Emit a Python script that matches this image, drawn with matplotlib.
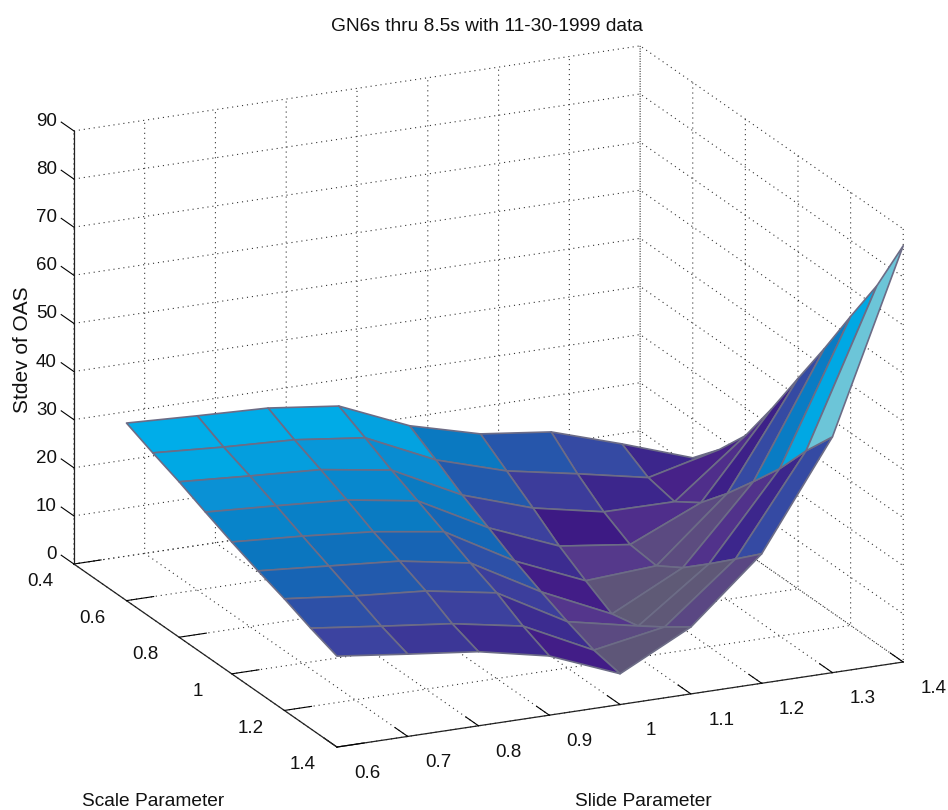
import numpy as np
import matplotlib
matplotlib.use('Agg')
import matplotlib.pyplot as plt
from matplotlib.colors import LinearSegmentedColormap, Normalize
from mpl_toolkits.mplot3d import proj3d

slide = [0.6, 0.7, 0.8, 0.9, 1.0, 1.1, 1.2, 1.3, 1.4]
scale = [0.6, 0.7, 0.8, 0.9, 1.0, 1.1, 1.2, 1.3, 1.4]

# one row per scale value
stdev_06 = [36.9, 36.2, 35.6, 33.8, 27.5, 23.6, 21.8, 17.1, 12.0]
stdev_07 = [34.5, 33.5, 32.8, 31.0, 24.2, 19.7, 16.9, 13.9, 17.5]
stdev_08 = [32.3, 31.3, 30.4, 28.1, 20.7, 15.8, 12.8, 12.7, 24.2]
stdev_09 = [29.8, 28.9, 27.9, 25.5, 17.7, 11.7, 9.8, 16.3, 33.6]
stdev_10 = [27.4, 26.4, 25.1, 22.9, 14.6, 8.3, 9.2, 22.0, 43.7]
stdev_11 = [25.2, 24.0, 22.8, 20.2, 12.0, 5.2, 12.6, 28.3, 53.7]
stdev_12 = [23.2, 21.6, 20.4, 17.8, 9.6, 6.5, 17.2, 34.8, 64.2]
stdev_13 = [20.9, 19.1, 17.4, 14.7, 7.5, 10.1, 22.0, 42.3, 74.4]
stdev_14 = [18.9, 17.1, 15.4, 12.3, 6.4, 13.9, 26.9, 49.0, 86.5]

x_ticks = [0.6, 0.7, 0.8, 0.9, 1.0, 1.1, 1.2, 1.3, 1.4]
x_labels = ['0.6', '0.7', '0.8', '0.9', '1', '1.1', '1.2', '1.3', '1.4']
y_ticks = [0.4, 0.6, 0.8, 1.0, 1.2, 1.4]
y_labels = ['0.4', '0.6', '0.8', '1', '1.2', '1.4']
z_ticks = [0, 10, 20, 30, 40, 50, 60, 70, 80, 90]
z_labels = ['0', '10', '20', '30', '40', '50', '60', '70', '80', '90']

plt.rcParams['font.family'] = ['Liberation Sans', 'DejaVu Sans']
plt.rcParams['grid.linestyle'] = (0, (1, 3.5))
plt.rcParams['grid.linewidth'] = 0.8
plt.rcParams['grid.color'] = '#333333'

Z = np.array([stdev_06, stdev_07, stdev_08, stdev_09, stdev_10,
              stdev_11, stdev_12, stdev_13, stdev_14])
X, Y = np.meshgrid(slide, scale)

# colours of the facets against height
norm = Normalize(0, 90)
stops = [(0, '#5f5a76'), (5, '#5f5a76'), (8, '#5e5578'), (10, '#5a4684'),
         (12, '#54368c'), (14, '#451f88'), (15.5, '#3d1a84'), (18, '#3c2f92'),
         (20.9, '#3c44a0'), (23.2, '#2b52a8'), (25.2, '#1565b5'), (27.4, '#0a78c0'),
         (30, '#0886cc'), (32.3, '#0a92d6'), (34.5, '#00a8e4'), (37, '#00aeea'),
         (42, '#6cc5d8'), (90, '#6cc5d8')]
cmap = LinearSegmentedColormap.from_list('oas', [(norm(v), c) for v, c in stops])

fig = plt.figure(figsize=(9.48, 8.10), dpi=100)
ax = fig.add_axes([72.6 / 948, -2.4 / 810, 810 / 948, 1.0], projection='3d',
                  proj_type='ortho')
ax.set_box_aspect((1, 1, 0.733), zoom=1.192)
ax.view_init(elev=18.86, azim=245.08)

surf = ax.plot_surface(X, Y, Z, rstride=1, cstride=1, facecolors=cmap(norm(Z)),
                       shade=False, linewidth=1.2, antialiased=True)
surf.set_edgecolor('#6c6c86')
surf.set_clip_on(False)

ax.set_xlim(0.6, 1.4)
ax.set_ylim(1.4, 0.4)
ax.set_zlim(0, 90)
ax.set_xticks(x_ticks)
ax.set_yticks(y_ticks)
ax.set_zticks(z_ticks)

for axis in (ax.xaxis, ax.yaxis, ax.zaxis):
    axis.pane.set_visible(False)
    axis.line.set_color('#222222')
    axis.line.set_linewidth(0.9)
    axis._axinfo['tick']['inward_factor'] = 0.0
    axis._axinfo['tick']['outward_factor'] = 0.6
    axis._axinfo['tick']['linewidth'] = {True: 0.8, False: 0.8}
    axis.set_tick_params(labelbottom=False, labelleft=False)
ax.zaxis.set_ticks_position('lower')


def tick_label(x, y, z, label, ha='center'):
    # native 3d tick labels can't be offset along the tick, so project by hand
    px, py, _ = proj3d.proj_transform(x, y, z, ax.get_proj())
    ax.text2D(px, py, label, transform=ax.transData, ha=ha, va='center',
              fontsize=13.5, color='#111111')


for tick, label in zip(x_ticks, x_labels):
    tick_label(tick, 1.515, -1.1, label)
for tick, label in zip(y_ticks, y_labels):
    tick_label(0.552, tick, -2.6, label)
for tick, label in zip(z_ticks, z_labels):
    tick_label(0.6, 0.335, tick - 0.5, label, ha='right')

fig.text(487 / 948, 1 - 26.5 / 810, 'GN6s thru 8.5s with 11-30-1999 data',
         ha='center', va='center', fontsize=13.8, color='#111111')
fig.text(153.5 / 948, 1 - 802 / 810, 'Scale Parameter', ha='center', va='center',
         fontsize=13.8, color='#111111')
fig.text(643 / 948, 1 - 802 / 810, 'Slide Parameter', ha='center', va='center',
         fontsize=13.8, color='#111111')
fig.text(23 / 948, 1 - 350 / 810, 'Stdev of OAS', ha='center', va='center',
         rotation=90, fontsize=15, color='#111111')

fig.savefig('out.png', dpi=100)
